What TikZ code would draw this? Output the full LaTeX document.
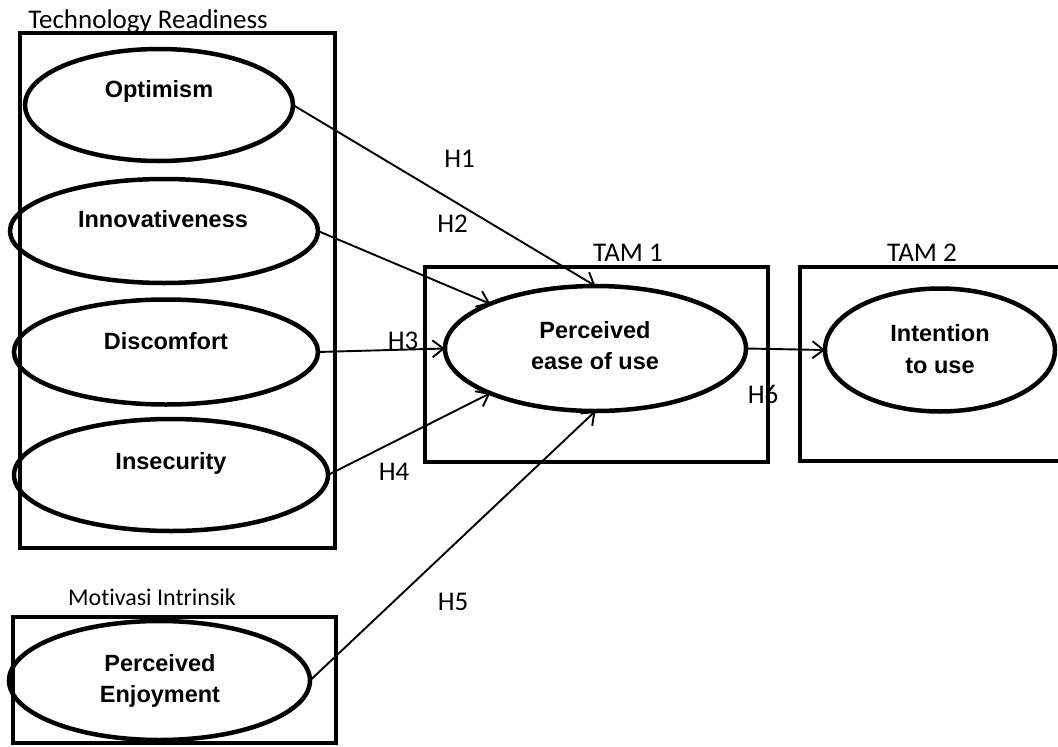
\documentclass[tikz,border=0pt]{standalone}
\usepackage{fontspec}
\setmainfont{Carlito}[Ligatures=NoCommon]
\newfontfamily\arialfont{Liberation Sans}
\usetikzlibrary{shapes.geometric,arrows.meta}
\begin{document}
\begin{tikzpicture}[x=1pt,y=-1pt,
  frame/.style={draw,line width=4.5pt,rectangle,inner sep=0pt,outer sep=0pt},
  oval/.style={draw,line width=4.5pt,ellipse,inner sep=0pt,outer sep=0pt},
  bl/.style={font=\arialfont\bfseries\fontsize{23.5}{28}\selectfont,anchor=base,inner sep=0pt},
  grp/.style={font=\fontsize{24}{28}\selectfont,anchor=base,inner sep=0pt},
  hyp/.style={font=\fontsize{27}{32}\selectfont,anchor=base,inner sep=0pt},
  conn/.style={line width=1.9pt,-{Straight Barb[length=11pt,width=17pt,line width=1.9pt]}}]
\useasboundingbox (0,0) rectangle (1058,747);
% group frames
\node[frame,minimum width=315,minimum height=515] (tr) at (177.5,290.5) {};
\node[frame,minimum width=343,minimum height=195] (tam1) at (596.5,364.5) {};
\node[frame,minimum width=270,minimum height=194] (tam2) at (935,364) {};
\node[frame,minimum width=323,minimum height=126] (mi) at (174.5,680) {};
% group labels
\node[grp,font=\fontsize{27}{32}\selectfont] (trl) at (148,28) {Technology Readiness};
\node[grp] (mil) at (152,605) {Motivasi Intrinsik};
\node[hyp] (tam1l) at (628,261) {TAM 1};
\node[hyp] (tam2l) at (922,261) {TAM 2};
% ellipses
\node[oval,minimum width=268,minimum height=112] (opt) at (159,105) {};
\node[oval,minimum width=308,minimum height=104] (inn) at (164,231) {};
\node[oval,minimum width=304,minimum height=105] (dis) at (166,352) {};
\node[oval,minimum width=314,minimum height=112] (ins) at (171,475) {};
\node[oval,minimum width=301,minimum height=125] (peou) at (595.5,348.5) {};
\node[oval,minimum width=230,minimum height=123] (int) at (940,350) {};
\node[oval,minimum width=301,minimum height=119] (pe) at (159.5,680.5) {};
% ellipse texts
\node[bl] (optt) at (159,97) {Optimism};
\node[bl] (innt) at (163,227) {Innovativeness};
\node[bl] (dist) at (166,349) {Discomfort};
\node[bl] (inst) at (171,469) {Insecurity};
\node[bl] (peoua) at (595,338) {Perceived};
\node[bl] (peoub) at (595,369) {ease of use};
\node[bl] (inta) at (940,341) {Intention};
\node[bl] (intb) at (940,373) {to use};
\node[bl] (pea) at (160,671) {Perceived};
\node[bl] (peb) at (160,702) {Enjoyment};
% connectors
\draw[conn] (opt.east) -- (peou.north);
\draw[conn] (inn.east) -- (peou.157);
\draw[conn] (dis.east) -- (peou.west);
\draw[conn] (ins.east) -- (peou.203);
\draw[conn] (pe.east) -- (peou.south);
\draw[conn] (peou.east) -- (int.west);
% hypothesis labels
\node[hyp] (h1) at (459.5,167) {H1};
\node[hyp] (h2) at (452.5,232.5) {H2};
\node[hyp] (h3) at (403,349) {H3};
\node[hyp] (h4) at (394,480) {H4};
\node[hyp] (h5) at (453,610) {H5};
\node[hyp] (h6) at (763,403) {H6};
\end{tikzpicture}
\end{document}
